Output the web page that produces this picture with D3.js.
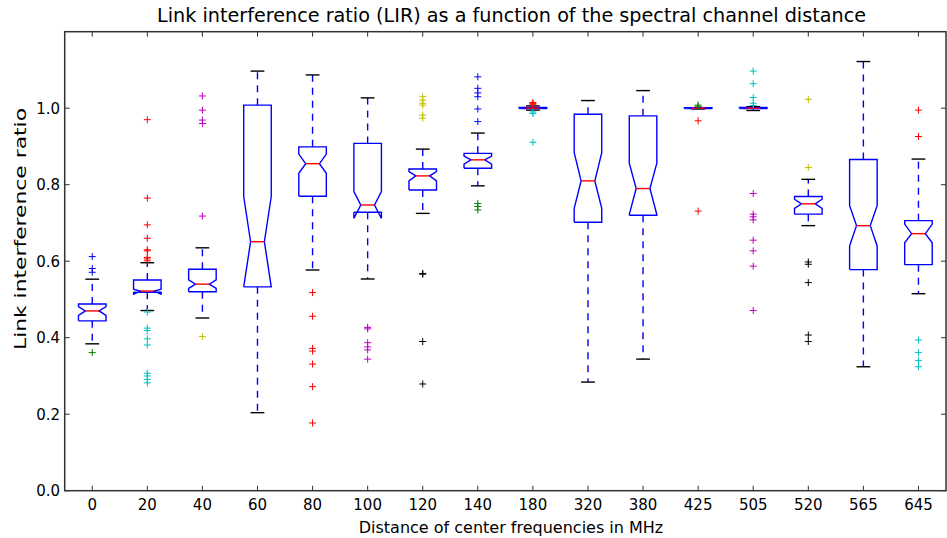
<!DOCTYPE html>
<html>
<head>
<meta charset="utf-8">
<script src="https://cdn.jsdelivr.net/npm/d3@7"></script>
<style>
  html, body { margin: 0; padding: 0; background: #fff; }
  svg { display: block; }
  text { font-family: "DejaVu Sans", sans-serif; fill: #000; }
</style>
</head>
<body>
<svg id="chart" width="947" height="538"></svg>
<script>
// ---------------- data ----------------
const categories = ["0","20","40","60","80","100","120","140","180","320","380","425","505","520","565","645"];
const whiskLo = [0.384, 0.471, 0.4515, 0.204, 0.577, 0.5535, 0.725, 0.797, 0.995, 0.284, 0.344, 0.998, 0.994, 0.693, 0.324, 0.515];
const q1      = [0.444, 0.519, 0.520, 0.533, 0.770, 0.728, 0.786, 0.843, 0.999, 0.702, 0.720, 0.999, 0.999, 0.723, 0.578, 0.591];
const notchLo = [0.4585, 0.514, 0.529, 0.533, 0.830, 0.712, 0.810, 0.854, 0.9995, 0.738, 0.722, 0.9995, 0.9995, 0.738, 0.640, 0.648];
const median  = [0.470, 0.522, 0.540, 0.651, 0.855, 0.747, 0.823, 0.865, 1.000, 0.810, 0.790, 1.000, 1.000, 0.750, 0.693, 0.672];
const notchHi = [0.481, 0.527, 0.551, 0.769, 0.880, 0.782, 0.834, 0.875, 1.0005, 0.884, 0.856, 1.0005, 1.0005, 0.762, 0.745, 0.697];
const q3      = [0.488, 0.551, 0.579, 1.008, 0.899, 0.908, 0.841, 0.882, 1.002, 0.984, 0.980, 1.001, 1.002, 0.769, 0.866, 0.706];
const whiskHi = [0.553, 0.596, 0.635, 1.097, 1.087, 1.027, 0.893, 0.935, 1.006, 1.020, 1.046, 1.001, 1.004, 0.814, 1.122, 0.867];
const fliersHi = [
  [0.612, 0.581, 0.571],
  [0.970, 0.765, 0.695, 0.660, 0.630, 0.627, 0.610, 0.606, 0.601],
  [1.032, 0.995, 0.969, 0.960, 0.718],
  [], [], [],
  [1.030, 1.021, 1.013, 1.008, 0.982, 0.974],
  [1.082, 1.052, 1.040, 1.030, 0.998, 0.965],
  [1.012, 1.015, 1.009],
  [], [],
  [1.005, 1.008],
  [1.097, 1.064, 1.028, 1.013, 1.007],
  [1.023, 0.845],
  [],
  [0.995, 0.926]
];
const fliersLo = [
  [0.361],
  [0.467, 0.425, 0.419, 0.397, 0.381, 0.307, 0.300, 0.291, 0.282],
  [0.403],
  [],
  [0.518, 0.456, 0.372, 0.365, 0.331, 0.272, 0.177],
  [0.427, 0.423, 0.387, 0.376, 0.368, 0.344],
  [0.568, 0.566, 0.390, 0.279],
  [0.751, 0.743, 0.734],
  [0.990, 0.986, 0.911],
  [], [],
  [0.967, 0.731],
  [0.777, 0.723, 0.716, 0.708, 0.655, 0.627, 0.587, 0.471],
  [0.598, 0.592, 0.544, 0.407, 0.390],
  [],
  [0.394, 0.361, 0.340, 0.324]
];
const yTicks = [0.0, 0.2, 0.4, 0.6, 0.8, 1.0];
const titleText = "Link interference ratio (LIR) as a function of the spectral channel distance";
const xLabelText = "Distance of center frequencies in MHz";
const yLabelText = "Link interference ratio";

// colour cycle used for the flier markers (upper then lower per box)
const cycle = ["#0000ff", "#008000", "#ff0000", "#00bfbf", "#bf00bf", "#bfbf00", "#000000"];

// ---------------- layout ----------------
const L = 64.7, R = 946, T = 31.7, B = 490.7;
const svg = d3.select("#chart");

const x = d3.scaleBand().domain(categories).range([L, R]).paddingInner(0).paddingOuter(0);
const y = d3.scaleLinear().domain([0, 1.2]).range([B, T]);
const bw = x.bandwidth() * 0.5;

const plot = svg.append("g");

categories.forEach((c, i) => {
  const cx = x(c) + x.bandwidth() / 2;
  const x0 = cx - bw / 2, x1 = cx + bw / 2, n0 = cx - bw / 4, n1 = cx + bw / 4;
  const g = plot.append("g");
  // whiskers (dashed), drawn from box outward
  g.append("line").attr("x1", cx).attr("x2", cx).attr("y1", y(q3[i])).attr("y2", y(whiskHi[i]))
    .attr("stroke", "#0000ff").attr("stroke-width", 1.4).attr("stroke-dasharray", "7,6");
  g.append("line").attr("x1", cx).attr("x2", cx).attr("y1", y(q1[i])).attr("y2", y(whiskLo[i]))
    .attr("stroke", "#0000ff").attr("stroke-width", 1.4).attr("stroke-dasharray", "7,6");
  // caps
  [whiskHi[i], whiskLo[i]].forEach(v => {
    g.append("line").attr("x1", n0).attr("x2", n1).attr("y1", y(v)).attr("y2", y(v))
      .attr("stroke", "#000").attr("stroke-width", 1.4);
  });
  // notched box
  const pts = [[x0, q1[i]], [x1, q1[i]], [x1, notchLo[i]], [n1, median[i]], [x1, notchHi[i]], [x1, q3[i]],
               [x0, q3[i]], [x0, notchHi[i]], [n0, median[i]], [x0, notchLo[i]], [x0, q1[i]]];
  g.append("path").attr("d", d3.line().x(d => d[0]).y(d => y(d[1]))(pts))
    .attr("fill", "none").attr("stroke", "#0000ff").attr("stroke-width", 1.4).attr("stroke-linejoin", "miter");
  // median
  g.append("line").attr("x1", n0).attr("x2", n1).attr("y1", y(median[i])).attr("y2", y(median[i]))
    .attr("stroke", "#ff0000").attr("stroke-width", 1.4);
  // fliers
  const drawPlus = (vals, col) => vals.forEach(v => {
    const py = y(v), s = 3.5;
    g.append("path").attr("d", `M${cx - s},${py}H${cx + s}M${cx},${py - s}V${py + s}`)
      .attr("stroke", col).attr("stroke-width", 1).attr("fill", "none");
  });
  drawPlus(fliersHi[i], cycle[(2 * i) % 7]);
  drawPlus(fliersLo[i], cycle[(2 * i + 1) % 7]);
});

// ---------------- frame and ticks ----------------
const frameCol = "#333";
svg.append("rect").attr("x", L).attr("y", T).attr("width", R - L).attr("height", B - T)
  .attr("fill", "none").attr("stroke", frameCol).attr("stroke-width", 1.5);

const tl = 5;
categories.forEach(c => {
  const cx = x(c) + x.bandwidth() / 2;
  svg.append("line").attr("x1", cx).attr("x2", cx).attr("y1", B).attr("y2", B - tl).attr("stroke", frameCol).attr("stroke-width", 1);
  svg.append("line").attr("x1", cx).attr("x2", cx).attr("y1", T).attr("y2", T + tl).attr("stroke", frameCol).attr("stroke-width", 1);
  svg.append("text").attr("x", cx).attr("y", 510).attr("text-anchor", "middle")
    .attr("font-size", 15).text(c);
});
yTicks.forEach(v => {
  const py = y(v);
  svg.append("line").attr("x1", L).attr("x2", L + tl).attr("y1", py).attr("y2", py).attr("stroke", frameCol).attr("stroke-width", 1);
  svg.append("line").attr("x1", R).attr("x2", R - tl).attr("y1", py).attr("y2", py).attr("stroke", frameCol).attr("stroke-width", 1);
  svg.append("text").attr("x", 60).attr("y", py + 5.5).attr("text-anchor", "end")
    .attr("font-size", 15).text(v.toFixed(1));
});

// ---------------- titles ----------------
svg.append("text").attr("x", (157 + 866) / 2).attr("y", 22).attr("text-anchor", "middle")
  .attr("font-size", 19).attr("textLength", 709).attr("lengthAdjust", "spacingAndGlyphs").text(titleText);
svg.append("text").attr("x", (359 + 663) / 2).attr("y", 533).attr("text-anchor", "middle")
  .attr("font-size", 16).text(xLabelText);
svg.append("text").attr("transform", `translate(26,229) rotate(-90)`).attr("text-anchor", "middle")
  .attr("font-size", 16.5).attr("textLength", 242).attr("lengthAdjust", "spacingAndGlyphs").text(yLabelText);
</script>
</body>
</html>
